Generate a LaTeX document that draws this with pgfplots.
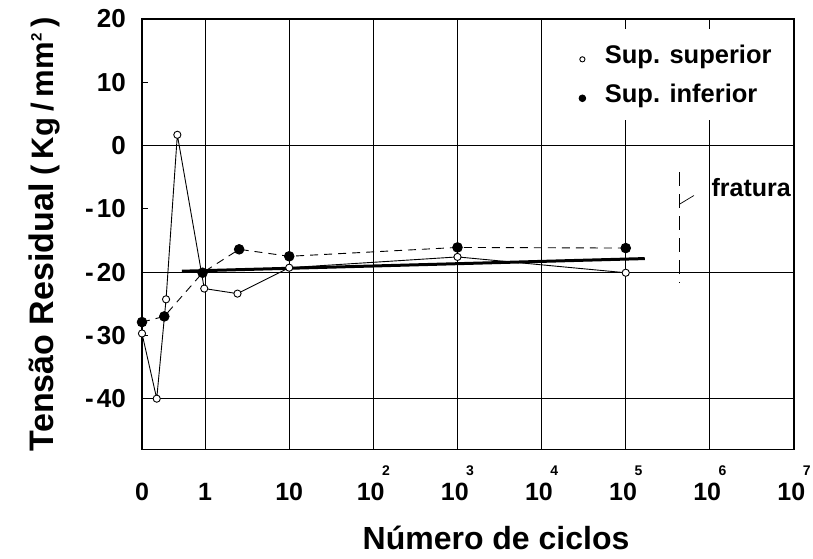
\documentclass[border=0pt]{standalone}
\usepackage{fontspec}
\setmainfont{Liberation Sans}
\usepackage{pgfplots}
\pgfplotsset{compat=1.18}
\newcommand\sq[1]{10\raisebox{25pt}{\kern-2.5pt\fontsize{14}{14}\selectfont #1}}
\begin{document}
\begin{tikzpicture}
\begin{axis}[
  scale only axis, width=652pt, height=430.3pt,
  xmin=0, xmax=7.75, ymin=-48, ymax=20,
  clip=false,
  axis line style={line width=1.2pt},
  font=\bfseries,
  xtick={0,0.75,1.75,2.75,3.75,4.75,5.75,6.75,7.75},
  xticklabels={0,1,10,\sq{2},\sq{3},\sq{4},\sq{5},\sq{6},\sq{7}},
  xmajorgrids,
  grid style={black, line width=1.1pt},
  xtick style={draw=none},
  xticklabel style={anchor=base, yshift=-51.7pt, font=\fontsize{25}{30}\selectfont\bfseries},
  ytick={-40,-30,-20,-10,0,10,20},
  yticklabels={-\kern3pt40,-\kern3pt30,-\kern3pt20,-\kern3pt10,0,10,20},
  yticklabel style={anchor=east, inner sep=0pt, xshift=-16pt, font=\fontsize{26}{30}\selectfont\bfseries},
  ytick pos=left, tick align=inside, major tick length=6pt,
  ytick style={line width=1.1pt, black},
  extra y ticks={-40,-20,0}, extra y tick labels={},
  extra y tick style={grid=major, major tick length=0pt},
  ylabel={Tensão Residual\hspace{8pt}{\fontsize{31}{36}\selectfont(\kern6pt Kg\kern6pt/\kern6pt mm\raisebox{12pt}{\fontsize{15}{15}\selectfont 2}\kern6pt)}},
  ylabel style={at={(axis description cs:-0.1357,0.5)}, anchor=base, rotate=0, font=\fontsize{34}{38}\selectfont\bfseries},
  xlabel={Número de ciclos},
  xlabel style={at={(axis description cs:0.543,-0.234)}, anchor=base, font=\fontsize{32}{36}\selectfont\bfseries},
  legend style={at={(axis cs:5.12,18.4)}, anchor=north west, draw=none, fill=white,
    font=\fontsize{25.5}{30}\selectfont\bfseries, row sep=15pt, inner xsep=4pt, inner ysep=14pt},
  legend cell align=left,
  legend image code/.code={\path (-5pt,0pt) (20pt,0pt); \draw[#1] plot coordinates {(0pt,-4pt)};},
  reverse legend,
]
\coordinate (bl) at (rel axis cs:0,0);
\coordinate (tr) at (rel axis cs:1,1);
% trend line
\addplot[black, line width=3pt, forget plot] coordinates {(0.473,-19.86) (5.976,-17.86)};
% Sup. inferior
\addplot[black, line width=0.9pt, dash pattern=on 8pt off 6pt, mark=*, mark size=4.8pt,
  mark options={solid, fill=black}, legend image post style={mark size=3.3pt}]
  coordinates {(0,-27.9) (0.265,-27.0) (0.72,-20.1) (1.155,-16.4) (1.75,-17.5) (3.75,-16.1) (5.75,-16.2)};
\addlegendentry{Sup. inferior}
% Sup. superior
\addplot[black, line width=0.9pt, mark=*, mark size=3.6pt,
  mark options={solid, fill=white, line width=0.9pt}, legend image post style={mark size=2.6pt}]
  coordinates {(0,-29.7) (0.175,-40.0) (0.286,-24.3) (0.42,1.7) (0.74,-22.6) (1.135,-23.4) (1.75,-19.3) (3.75,-17.6) (5.75,-20.1)};
\addlegendentry{Sup. superior}
% fracture
\addplot[black, line width=1.1pt, dash pattern=on 14pt off 8pt, forget plot] coordinates {(6.385,-4.2) (6.385,-21.6)};
\addplot[black, line width=0.7pt, forget plot] coordinates {(6.385,-9.3) (6.56,-7.9)};
\node[anchor=north west, fill=white, inner sep=0pt, minimum height=57pt, text height=18pt, text depth=2pt,
  font=\fontsize{25}{30}\selectfont\bfseries] at (axis cs:6.745,-2.2) {\kern2pt fratura\kern2pt};
\end{axis}
\pgfresetboundingbox
\useasboundingbox ([xshift=-142pt,yshift=-109.7pt]bl) rectangle ([xshift=19pt,yshift=19pt]tr);
\end{tikzpicture}
\end{document}
